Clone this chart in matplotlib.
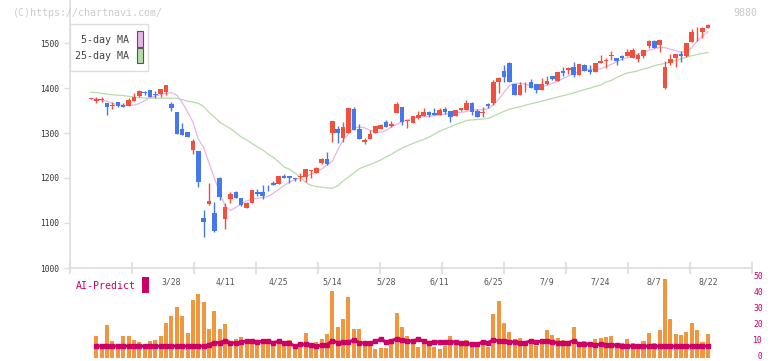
import numpy as np
import matplotlib.pyplot as plt
from matplotlib.patches import Rectangle
from matplotlib.transforms import ScaledTranslation

# daily candles (oldest -> newest)
opens = [1376, 1372, 1374, 1367, 1360, 1369, 1363, 1361, 1372, 1382,
         1391, 1396, 1385, 1387, 1392, 1365, 1347, 1308, 1303, 1262,
         1260, 1111, 1142, 1122, 1200, 1108, 1153, 1168, 1156, 1134,
         1144, 1168, 1168, 1178, 1189, 1187, 1205, 1205, 1200, 1202,
         1203, 1215, 1211, 1233, 1242, 1299, 1309, 1290, 1301, 1353,
         1309, 1279, 1287, 1301, 1308, 1324, 1316, 1344, 1357, 1327,
         1323, 1334, 1338, 1347, 1344, 1339, 1353, 1350, 1337, 1351,
         1352, 1366, 1349, 1345, 1364, 1366, 1414, 1438, 1456, 1408,
         1385, 1406, 1413, 1408, 1396, 1410, 1426, 1416, 1438, 1441,
         1447, 1430, 1451, 1439, 1436, 1456, 1459, 1471, 1467, 1470,
         1471, 1467, 1464, 1471, 1494, 1505, 1496, 1401, 1455, 1467,
         1476, 1472, 1503, 1528, 1525, 1534]
closes = [1377, 1375, 1375, 1358, 1363, 1361, 1357, 1373, 1381, 1393,
          1390, 1381, 1384, 1397, 1407, 1355, 1298, 1295, 1292, 1282,
          1192, 1103, 1149, 1083, 1157, 1136, 1165, 1156, 1141, 1145,
          1173, 1165, 1161, 1177, 1185, 1204, 1201, 1201, 1198, 1203,
          1219, 1218, 1222, 1242, 1230, 1326, 1300, 1313, 1356, 1307,
          1287, 1284, 1298, 1316, 1317, 1314, 1320, 1364, 1324, 1328,
          1338, 1340, 1347, 1339, 1339, 1351, 1347, 1335, 1350, 1355,
          1366, 1347, 1336, 1346, 1360, 1413, 1423, 1425, 1414, 1385,
          1407, 1407, 1399, 1396, 1410, 1416, 1419, 1436, 1433, 1445,
          1430, 1453, 1438, 1435, 1455, 1460, 1462, 1472, 1461, 1467,
          1480, 1484, 1473, 1484, 1504, 1490, 1507, 1447, 1464, 1475,
          1472, 1500, 1524, 1529, 1533, 1540]
highs = [1378, 1379, 1379, 1367, 1368, 1370, 1366, 1377, 1388, 1396,
         1394, 1396, 1393, 1397, 1407, 1369, 1347, 1323, 1303, 1287,
         1260, 1129, 1190, 1147, 1202, 1144, 1170, 1171, 1156, 1147,
         1173, 1176, 1185, 1185, 1193, 1204, 1210, 1205, 1201, 1212,
         1219, 1218, 1224, 1244, 1258, 1326, 1316, 1325, 1356, 1357,
         1320, 1289, 1307, 1316, 1319, 1329, 1327, 1369, 1357, 1328,
         1338, 1349, 1356, 1348, 1355, 1355, 1357, 1350, 1352, 1355,
         1373, 1368, 1353, 1357, 1367, 1417, 1425, 1451, 1457, 1410,
         1413, 1413, 1420, 1408, 1422, 1426, 1426, 1436, 1446, 1447,
         1457, 1453, 1453, 1451, 1455, 1473, 1466, 1482, 1467, 1473,
         1487, 1490, 1477, 1484, 1507, 1507, 1507, 1460, 1476, 1475,
         1482, 1500, 1531, 1536, 1536, 1543]
lows = [1376, 1366, 1370, 1341, 1354, 1358, 1357, 1361, 1372, 1381,
        1384, 1381, 1378, 1381, 1385, 1349, 1298, 1295, 1292, 1253,
        1181, 1068, 1141, 1081, 1151, 1086, 1144, 1156, 1138, 1134,
        1144, 1161, 1153, 1172, 1184, 1187, 1201, 1188, 1193, 1194,
        1192, 1201, 1211, 1232, 1230, 1281, 1278, 1281, 1301, 1307,
        1287, 1275, 1287, 1301, 1308, 1314, 1313, 1344, 1318, 1311,
        1323, 1331, 1338, 1336, 1339, 1339, 1343, 1325, 1337, 1348,
        1352, 1340, 1336, 1336, 1356, 1362, 1390, 1414, 1414, 1385,
        1385, 1392, 1399, 1390, 1396, 1407, 1418, 1416, 1427, 1432,
        1425, 1430, 1438, 1431, 1436, 1455, 1445, 1462, 1451, 1462,
        1471, 1467, 1458, 1466, 1488, 1490, 1479, 1398, 1451, 1447,
        1458, 1470, 1503, 1504, 1512, 1534]

ma5 = [1376.7, 1375.2, 1373.2, 1370.0, 1365.8, 1362.9, 1361.2, 1360.9, 1362.0, 1365.6,
       1371.8, 1378.5, 1382.2, 1385.2, 1388.5, 1389.6, 1384.3, 1367.8, 1346.9, 1324.5,
       1286.7, 1267.8, 1233.4, 1200.0, 1166.7, 1137.8, 1127.4, 1134.9, 1142.3, 1149.3,
       1152.5, 1154.9, 1156.3, 1158.9, 1166.3, 1174.7, 1183.4, 1190.5, 1196.5, 1199.8,
       1203.6, 1208.3, 1213.8, 1220.0, 1228.0, 1237.8, 1262.3, 1284.5, 1297.8, 1310.7,
       1313.4, 1311.6, 1306.0, 1303.4, 1301.2, 1305.6, 1313.4, 1319.6, 1325.4, 1329.6,
       1333.1, 1334.9, 1336.5, 1337.2, 1338.3, 1339.8, 1342.0, 1344.0, 1344.7, 1345.8,
       1347.8, 1351.2, 1351.2, 1351.8, 1353.8, 1362.3, 1374.5, 1390.5, 1405.1, 1410.3,
       1410.5, 1408.5, 1404.5, 1400.0, 1402.3, 1406.7, 1410.3, 1414.9, 1421.1, 1426.7,
       1432.3, 1435.8, 1441.2, 1441.2, 1441.2, 1442.7, 1447.6, 1452.5, 1458.5, 1463.8,
       1467.6, 1471.6, 1475.6, 1479.6, 1483.6, 1487.2, 1490.3, 1489.6, 1486.3, 1482.9,
       1479.6, 1480.5, 1489.4, 1504.0, 1516.0, 1524.9]
ma25 = [1390.5, 1390.0, 1388.0, 1386.3, 1384.9, 1384.0, 1383.2, 1381.4, 1380.0, 1378.7,
        1377.8, 1377.8, 1377.6, 1377.6, 1377.4, 1377.4, 1377.1, 1374.3, 1370.7, 1368.9,
        1366.0, 1358.9, 1345.6, 1336.0, 1323.6, 1316.7, 1309.6, 1300.5, 1291.4, 1284.9,
        1276.7, 1269.4, 1262.3, 1253.4, 1245.6, 1235.6, 1224.5, 1219.6, 1211.2, 1202.3,
        1190.0, 1184.0, 1180.9, 1179.6, 1177.8, 1177.2, 1182.7, 1193.4, 1202.3, 1211.2,
        1220.5, 1225.6, 1230.0, 1234.9, 1240.0, 1246.7, 1252.7, 1260.0, 1266.7, 1271.8,
        1276.7, 1281.1, 1285.6, 1290.5, 1297.4, 1304.3, 1308.9, 1313.8, 1319.2, 1322.7,
        1328.0, 1328.9, 1330.0, 1330.9, 1332.3, 1337.2, 1342.7, 1348.0, 1352.9, 1355.6,
        1358.5, 1361.8, 1364.9, 1367.6, 1370.5, 1373.8, 1376.9, 1379.8, 1382.9, 1385.8,
        1389.2, 1392.9, 1396.7, 1399.4, 1403.4, 1406.7, 1413.4, 1416.7, 1423.4, 1428.9,
        1433.4, 1435.6, 1438.3, 1442.3, 1445.2, 1449.4, 1452.3, 1454.5, 1457.8, 1461.6,
        1464.5, 1468.5, 1471.8, 1474.5, 1476.7, 1478.9]

# AI-Predict panel (starts at the 2nd candle)
volume = [13.75, 6.7, 20.6, 10.6, 6.7, 13.75, 13.75, 11.25, 10, 6.7,
          10.8, 11.25, 13.75, 22, 26.25, 31.9, 26.25, 15.8, 36.25, 40,
          35, 18.1, 29.4, 18.1, 21.25, 10.6, 11.7, 13.1, 9.2, 11.25,
          10, 9.2, 11.25, 9.2, 10.6, 8.1, 11.25, 6.7, 8.3, 15.6,
          6.25, 10.2, 11.9, 15, 41.9, 19.4, 24.4, 38.1, 18.1, 18.1,
          9.2, 10.8, 5.6, 6.25, 6.5, 9.6, 28.3, 19.6, 13.75, 11.25,
          6.9, 8.75, 8.5, 6.9, 5.9, 7.8, 13.75, 10.2, 10.2, 11.25,
          9.2, 9.2, 10.2, 7.1, 27.5, 35.6, 22, 16.5, 11.9, 12.7,
          10.2, 11.25, 7.8, 10.8, 17.5, 14.4, 12.7, 11.25, 10.2, 19.6,
          10.2, 10.8, 9.2, 11.9, 12.7, 13.3, 13.75, 7.3, 9.6, 11.9,
          9.6, 8.75, 10.8, 15.8, 9.6, 17.5, 49.4, 24.4, 15, 14.4,
          16.5, 22, 17.5, 10.2, 15]
predict = [7.4, 7.4, 7.4, 7.4, 7.4, 7.4, 7.4, 7.4, 7.4, 7.4,
           7.4, 7.4, 7.4, 7.4, 7.4, 7.4, 7.4, 7.4, 7.4, 7.4,
           7.4, 8.3, 9.6, 9.6, 10.8, 9.6, 9.2, 10, 10.4, 10.4,
           10, 10.4, 10.4, 9.6, 10.4, 9.2, 9.2, 7.4, 8.5, 8.5,
           8.3, 7.4, 7.9, 8.3, 10.8, 9.6, 10, 10, 11.25, 9.6,
           9.2, 9.2, 10.4, 11.7, 10, 10.8, 11.9, 11.25, 10.6, 10.6,
           11.7, 10.6, 9.6, 10, 10, 10, 10, 10, 9.2, 9.2,
           8.5, 8.5, 10, 9.6, 11.25, 10.8, 10.4, 10, 10, 9.6,
           9.6, 10.8, 10, 10.4, 10.8, 10, 9.6, 9.2, 9.6, 10.8,
           8.7, 8.7, 8.7, 7.9, 8.7, 8.1, 8.3, 7.9, 7.6, 7.6,
           7.4, 7.4, 7.4, 7.4, 7.4, 7.4, 7.4, 7.4, 7.4, 7.4,
           7.4, 7.4, 7.4, 7.4, 7.4]

date_labels = ['3/28', '4/11', '4/25', '5/14', '5/28', '6/11',
               '6/25', '7/9', '7/24', '8/7', '8/22']
date_index = [15, 25, 35, 45, 55, 65, 75, 85, 95, 105, 115]
price_ticks = [1000, 1100, 1200, 1300, 1400, 1500]
ai_ticks = [0, 10, 20, 30, 40, 50]

UP = '#F0503C'
DOWN = '#4478EC'
MA5_C = '#E8B4EC'
MA25_C = '#B6DCAA'
BAR_C = '#F0963F'
AI_C = '#CC0066'
GRID_C = '#DDDDDD'
MONO = 'DejaVu Sans Mono'

W, H = 772, 361
fig = plt.figure(figsize=(W / 100, H / 100), dpi=100)
fig.patch.set_facecolor('white')

def fx(px):
    return px / W

def fy(py):
    return 1 - py / H

STEP = 5.364
X0 = 91
xl = ((70 - X0) / STEP, (752 - X0) / STEP)

# ---- price panel
ax = fig.add_axes([fx(70), fy(268), fx(752) - fx(70), 268 / H])
ax.set_xlim(*xl)
ax.set_ylim(1000, 1000 + 268 / 0.45)
x = np.arange(len(closes))
o = np.array(opens, float)
c = np.array(closes, float)
cols = [UP if cc >= oo else DOWN for oo, cc in zip(o, c)]
ax.plot(x, ma25, color=MA25_C, lw=0.9, zorder=1)
ax.plot(x, ma5, color=MA5_C, lw=0.9, zorder=1)
ax.vlines(x, lows, highs, colors=cols, lw=1.0, zorder=2)
body = np.maximum(np.abs(c - o), 1.6)
ax.bar(x, body, bottom=np.minimum(o, c), width=0.86, color=cols, zorder=3, linewidth=0)

for s in ['top', 'right']:
    ax.spines[s].set_visible(False)
for s in ['left', 'bottom']:
    ax.spines[s].set_color(GRID_C)
    ax.spines[s].set_linewidth(1.2)
ax.set_yticks(price_ticks)
ax.set_yticklabels([str(v) for v in price_ticks], fontfamily=MONO, fontsize=5.7, color='#333333')
ax.tick_params(axis='y', length=4, color=GRID_C, width=1.0, pad=4)
ax.set_xticks(date_index)
ax.set_xticklabels(date_labels, fontfamily=MONO, fontsize=5.9, color='#555555')
ax.tick_params(axis='x', which='major', length=0, pad=6.5)
ax.set_xticks([(70 + 62 * k - X0) / STEP for k in range(12)], minor=True)
ax.tick_params(axis='x', which='minor', length=8, direction='inout', color=GRID_C, width=1.2)

# legend box
fig.patches.append(Rectangle((fx(70), fy(71)), fx(78), 47 / H, transform=fig.transFigure,
                             facecolor='white', edgecolor=GRID_C, lw=1.0, zorder=5))
fig.text(fx(129), fy(40), '5-day MA', ha='right', va='center', fontfamily=MONO,
         fontsize=7.2, color='#444444', zorder=6)
fig.text(fx(129), fy(56), '25-day MA', ha='right', va='center', fontfamily=MONO,
         fontsize=7.2, color='#444444', zorder=6)
fig.patches.append(Rectangle((fx(136.5), fy(46.5)), fx(6), 15 / H, transform=fig.transFigure,
                             facecolor=MA5_C, edgecolor='#555555', lw=0.8, zorder=6))
fig.patches.append(Rectangle((fx(136.5), fy(63)), fx(6), 15 / H, transform=fig.transFigure,
                             facecolor=MA25_C, edgecolor='#555555', lw=0.8, zorder=6))

fig.text(fx(13), fy(13), '(C)https://chartnavi.com/', ha='left', va='center',
         fontfamily=MONO, fontsize=7.2, color='#CCCCCC')
fig.text(fx(757), fy(13), '9880', ha='right', va='center',
         fontfamily=MONO, fontsize=7.2, color='#C8C8C8')

# ---- AI-Predict panel
bx = fig.add_axes([fx(70), 0, fx(752) - fx(70), 89 / H])
bx.set_xlim(*xl)
bx.set_ylim(-3 / 1.6, 86 / 1.6)
xb = np.arange(1, len(volume) + 1)
bx.bar(xb, volume, width=0.75, color=BAR_C, linewidth=0, zorder=1)
bx.plot(xb, predict, color=AI_C, lw=2.2, marker='s', ms=2.6, zorder=2)
for s in bx.spines.values():
    s.set_visible(False)
bx.set_xticks([])
bx.yaxis.tick_right()
bx.set_yticks(ai_ticks)
bx.set_yticklabels(['%2d' % v for v in ai_ticks], fontfamily=MONO, fontsize=5.9, color=AI_C)
bx.tick_params(axis='y', length=0, pad=1)
lift = ScaledTranslation(0, 1.5 / 72, fig.dpi_scale_trans)
for lab in bx.get_yticklabels():
    lab.set_transform(lab.get_transform() + lift)
bx.set_facecolor('none')

fig.text(fx(76), fy(286), 'AI-Predict', ha='left', va='center', fontfamily=MONO,
         fontsize=7.1, color=AI_C)
fig.patches.append(Rectangle((fx(142.3), fy(292.7)), fx(6.3), 16 / H, transform=fig.transFigure,
                             facecolor=AI_C, edgecolor='none'))

fig.savefig('out.png', dpi=100)
